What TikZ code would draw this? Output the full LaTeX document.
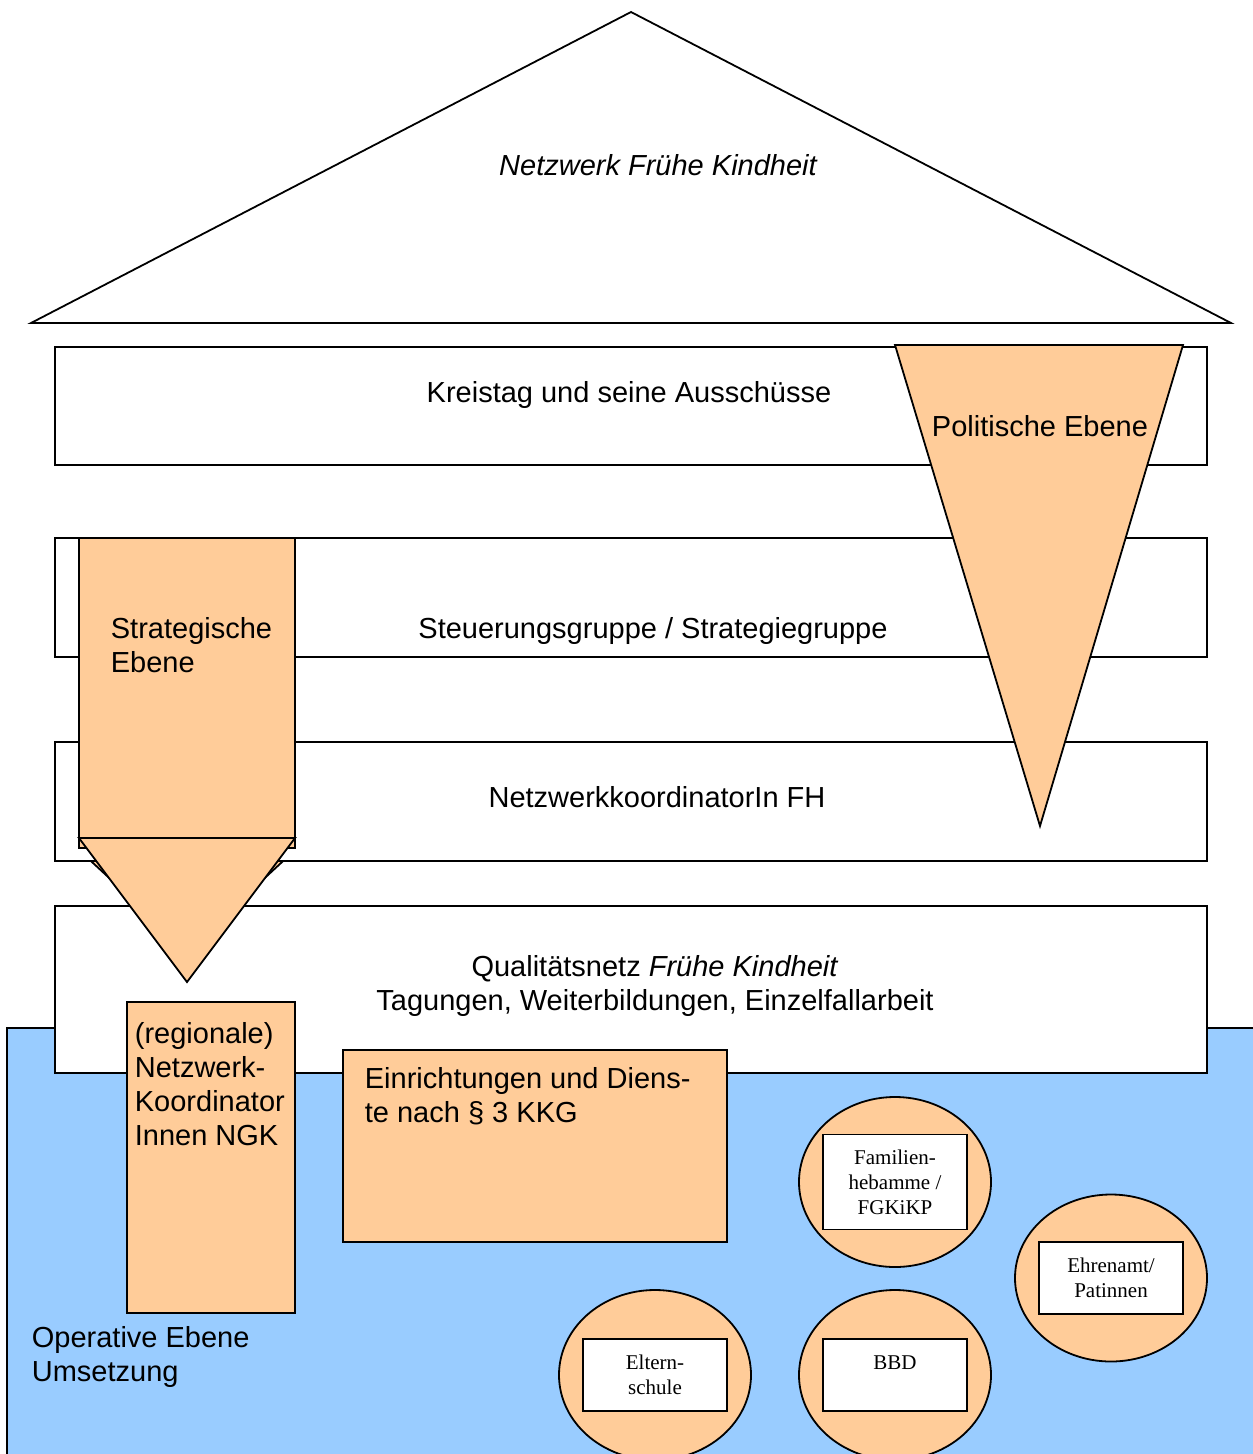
\documentclass[tikz,border=0pt]{standalone}
\usepackage{fontspec}
\setmainfont{Liberation Sans}
\newfontfamily\timesfont{Liberation Serif}
\usetikzlibrary{positioning, shapes}

\definecolor{peach}{HTML}{FFCC99}
\definecolor{skyblue}{HTML}{99CCFF}

\begin{document}
\begin{tikzpicture}[x=1pt, y=-1pt, line width=1.8pt,
  level/.style={draw, fill=white, rectangle, anchor=north west,
                minimum width=1152pt, inner sep=0pt, outer sep=0pt},
  peachbox/.style={draw, fill=peach, rectangle, anchor=north west,
                   inner sep=0pt, outer sep=0pt},
  inbox/.style={draw, fill=white, rectangle, minimum width=144pt,
                minimum height=72pt, inner sep=0pt},
  oval/.style={draw, fill=peach, ellipse, minimum width=192pt,
               minimum height=170pt, inner sep=0pt},
  big/.style={font=\fontsize{29}{34}\selectfont, inner sep=0pt},
  bigit/.style={font=\fontsize{29}{34}\selectfont\itshape, inner sep=0pt},
  small/.style={font=\timesfont\fontsize{21}{25}\selectfont, align=center, inner sep=0pt}]
\useasboundingbox (0,0) rectangle (1253,1454);
\clip (0,0) rectangle (1253,1454);

% operative ground
\fill[skyblue] (7,1028) rectangle (1270,1470);
\draw (7,1470) -- (7,1028) -- (1270,1028);

% roof
\coordinate (roofl) at (31,323);
\coordinate (roofr) at (1231,323);
\coordinate (roofa) at (631,12);
\draw (roofl) -- (roofa) -- (roofr) -- cycle;
\node[bigit] (rooftxt) at (658,165) {Netzwerk Frühe Kindheit};

% hidden arrow behind the levels
\draw[fill=peach] (66,838) -- (308,838) -- (187,950) -- cycle;

% levels
\node[level, minimum height=118pt] (kreis) at (55,347) {};
\node[level, minimum height=119pt] (steuer) at (55,538) {};
\node[level, minimum height=119pt] (koord) at (55,742) {};
\node[level, minimum height=167pt] (quali) at (55,906) {};

% politische Ebene
\coordinate (poll) at (895,345);
\coordinate (polr) at (1183,345);
\coordinate (pola) at (1040,826);
\draw[fill=peach] (poll) -- (polr) -- (pola) -- cycle;

% strategische Ebene
\node[peachbox, minimum width=216pt, minimum height=310pt] (strat) at (79,538) {};
\coordinate (stratl) at (79,838);
\coordinate (stratr) at (295,838);
\coordinate (strata) at (187,982);
\draw[fill=peach] (stratl) -- (stratr) -- (strata) -- cycle;

% operative boxes
\node[peachbox, minimum width=168pt, minimum height=311pt] (regio) at (127,1002) {};
\node[peachbox, minimum width=384pt, minimum height=192pt] (einr) at (343,1050) {};

\node[oval] (fam) at (895,1182) {};
\node[oval, minimum height=167pt] (ehren) at (1111,1278) {};
\node[oval] (eltern) at (655,1375) {};
\node[oval] (bbd) at (895,1375) {};

\node[inbox, minimum height=95pt] (famin) at (fam) {};
\node[inbox] (ehrenin) at (ehren) {};
\node[inbox] (elternin) at (eltern) {};
\node[inbox] (bbdin) at (bbd) {};

% texts
\node[big] (kreistxt) at (629,395) {Kreistag und seine Ausschüsse};
\node[big] (poltxt) at (1040,426) {Politische Ebene};
\node[big] (steuertxt) at (653,631) {Steuerungsgruppe / Strategiegruppe};
\node[big] (koordtxt) at (657,797) {NetzwerkkoordinatorIn FH};
\node[big, align=center] (qualitxt) at (655,986)
  {Qualitätsnetz \textit{Frühe Kindheit}\\Tagungen, Weiterbildungen, Einzelfallarbeit};
\node[big, align=left, anchor=base west] (strattxt) at (110,672) {Strategische\\Ebene};
\node[big, align=left, anchor=base west] (regiotxt) at (134,1145)
  {(regionale)\\Netzwerk-\\Koordinator\\Innen NGK};
\node[big, align=left, anchor=base west] (einrtxt) at (364,1122)
  {Einrichtungen und Diens-\\te nach § 3 KKG};
\node[big, align=left, anchor=base west] (opertxt) at (31,1381)
  {Operative Ebene\\Umsetzung};

\node[small] (famtxt) at (famin) {Familien-\\hebamme /\\FGKiKP};
\node[small] (ehrentxt) at (ehrenin) {Ehrenamt/\\Patinnen};
\node[small] (elterntxt) at (elternin) {Eltern-\\schule};
\node[small, below=17pt of bbdin.north] (bbdtxt) {BBD};
\end{tikzpicture}
\end{document}
